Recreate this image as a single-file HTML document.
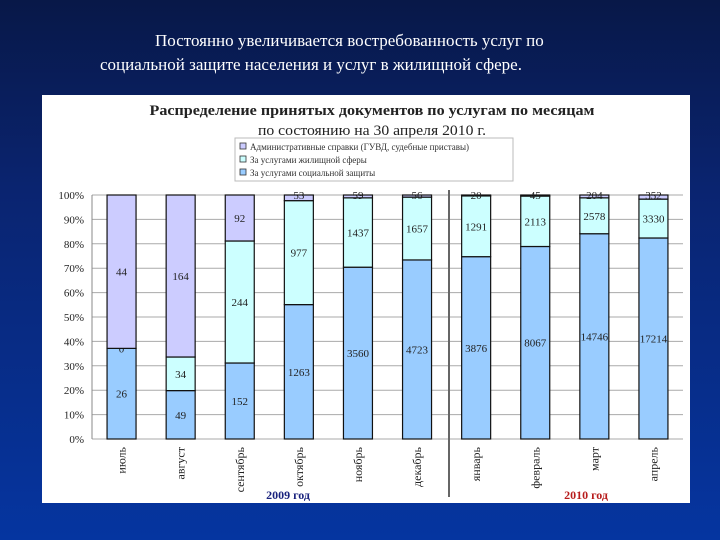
<!DOCTYPE html>
<html><head><meta charset="utf-8"><style>
html,body{margin:0;padding:0;}
body{width:720px;height:540px;overflow:hidden;background:linear-gradient(180deg,#081848 0%,#0a2470 35%,#0535a0 100%);font-family:"Liberation Serif","Noto Serif CJK SC",serif;position:relative;}
.t{position:absolute;color:#fff;font-size:17px;white-space:nowrap;}
</style></head><body>
<div class="t" style="left:155px;top:31px;">Постоянно увеличивается востребованность услуг по</div>
<div class="t" style="left:100px;top:55px;">социальной защите населения и услуг в жилищной сфере.</div>
<svg id="c" width="720" height="540" style="position:absolute;left:0;top:0" font-family="Liberation Serif, serif"></svg>
<script>
const months=["июль","август","сентябрь","октябрь","ноябрь","декабрь","январь","февраль","март","апрель"];
const social=[26,49,152,1263,3560,4723,3876,8067,14746,17214];
const housing=[0,34,244,977,1437,1657,1291,2113,2578,3330];
const admin=[44,164,92,53,59,56,20,45,204,352];
const yTicks=[0,10,20,30,40,50,60,70,80,90,100];
const NS="http://www.w3.org/2000/svg";
const svg=document.getElementById('c');
function mk(t,a,p){const e=document.createElementNS(NS,t);for(const k in a)e.setAttribute(k,a[k]);(p||svg).appendChild(e);return e;}
const x0=92,x1=683,yB=439,yT=195;
const y=v=>yB-(yT-yB)*-v/100;
const step=(x1-x0)/months.length;
const xc=i=>x0+step*(i+0.5);
const bw=29;
let panel=mk('rect',{x:42,y:95,width:648,height:408,fill:'#fff'});


let t1=mk('text',{x:372,y:115,'text-anchor':'middle','font-size':15,'font-weight':'bold',fill:'#222',textLength:445,lengthAdjust:'spacingAndGlyphs'});
t1.textContent='Распределение принятых документов по услугам по месяцам';


let t2=mk('text',{x:372,y:135,'text-anchor':'middle','font-size':15,fill:'#222',textLength:228,lengthAdjust:'spacingAndGlyphs'});
t2.textContent='по состоянию на 30 апреля  2010 г.';


const lg=mk('g',{});


mk('rect',{x:235,y:138,width:278,height:43,fill:'#fff',stroke:'#bbb'},lg);
const legNames=["Административные справки (ГУВД, судебные приставы)","За услугами жилищной сферы","За услугами социальной защиты"];
const cols=['#ccccff','#ccffff','#99ccff'];
legNames.forEach((n,i)=>{
 const g=mk('g',{},lg);
 
 
 mk('rect',{x:240,y:143+i*13,width:6,height:6,fill:cols[i],stroke:'#333','stroke-width':0.8},g);
 const tx=mk('text',{x:250,y:150+i*13,'font-size':9,fill:'#333'},g);tx.textContent=n;
});
yTicks.forEach(v=>{
 const l=mk('line',{x1:x0,x2:x1,y1:y(v),y2:y(v),stroke:'#aaa','stroke-width':1});
 
 
 const tx=mk('text',{x:84,y:y(v)+4,'text-anchor':'end','font-size':11,fill:'#222'});
 tx.textContent=v+'%';
 
 
});
mk('line',{x1:x0,x2:x0,y1:yT,y2:yB,stroke:'#888'});
let dv=mk('line',{x1:449,x2:449,y1:190,y2:497,stroke:'#666','stroke-width':2});


months.forEach((m,i)=>{
 const tot=social[i]+housing[i]+admin[i];
 const segs=[social[i],housing[i],admin[i]];
 let acc=0;
 const names=['bar-social','bar-housing','bar-admin'];
 segs.forEach((v,k)=>{
  const p0=acc/tot*100, p1=(acc+v)/tot*100; acc+=v;
  const r=mk('rect',{x:xc(i)-bw/2,y:y(p1),width:bw,height:Math.max(0,y(p0)-y(p1)),fill:cols[2-k],stroke:'#111','stroke-width':1.2});
  
  
  const h=y(p0)-y(p1);
  let ly=h<12? y(p1)+4 : (y(p0)+y(p1))/2+4;
  const tx=mk('text',{x:xc(i),y:ly,'text-anchor':'middle','font-size':11,fill:'#222'});
  tx.textContent=v;
  
  
 });
 const lb=mk('text',{x:0,y:0,'text-anchor':'end','font-size':12,fill:'#222',transform:`translate(${xc(i)+4},447) rotate(-90)`});
 lb.textContent=m;
 
 
});
let y1=mk('text',{x:288,y:499,'text-anchor':'middle','font-size':12,'font-weight':'bold',fill:'#1a237e'});
y1.textContent='2009 год';


let y2=mk('text',{x:586,y:499,'text-anchor':'middle','font-size':12,'font-weight':'bold',fill:'#b71c1c'});
y2.textContent='2010 год';


</script>
</body></html>
